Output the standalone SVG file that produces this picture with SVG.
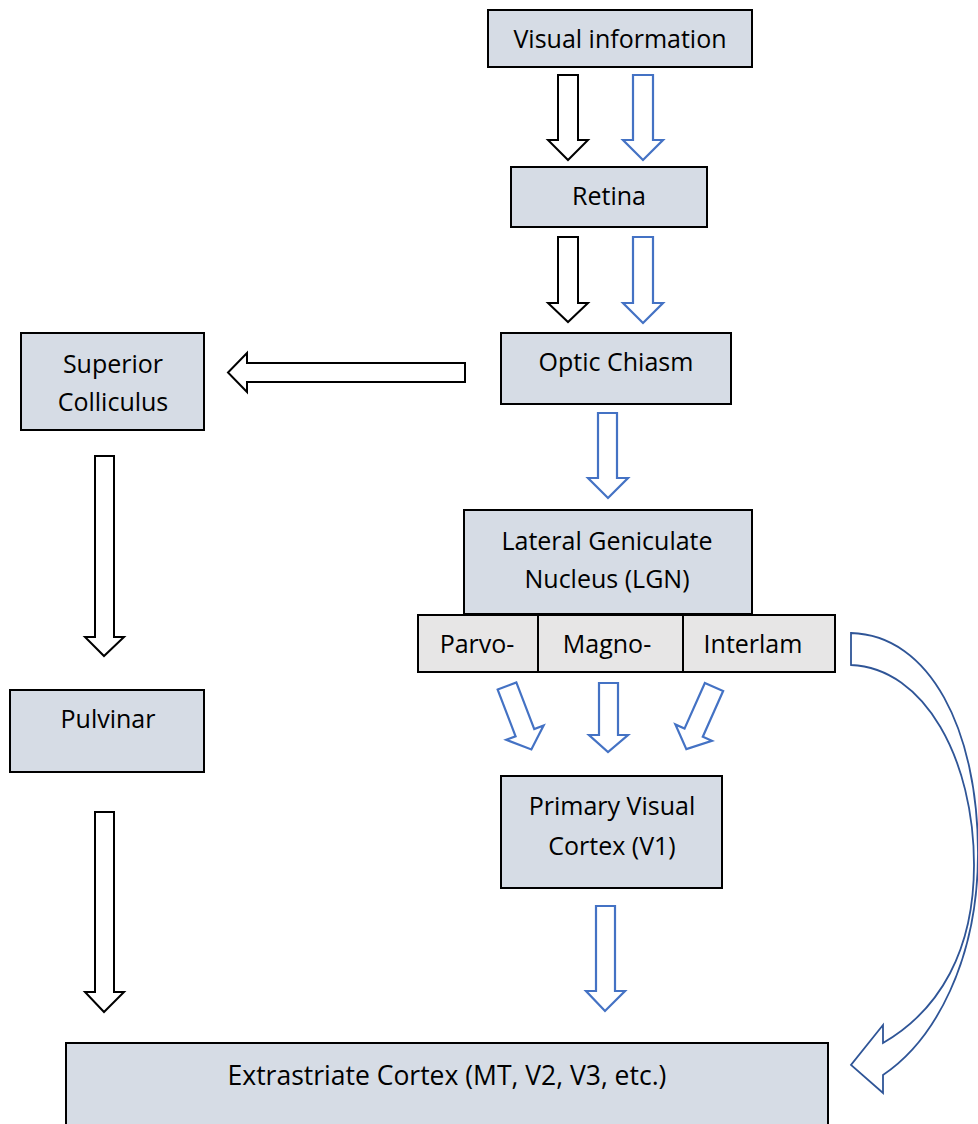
<svg xmlns="http://www.w3.org/2000/svg" width="978" height="1124" viewBox="0 0 978 1124">
<style>
.box{fill:#d6dce5;stroke:#000;stroke-width:2}
.sub{fill:#e7e6e6;stroke:#000;stroke-width:2}
.t{font-family:"Open Sans","Liberation Sans",sans-serif;font-size:25px;fill:#000;text-anchor:middle}
.ab{fill:#fff;stroke:#000;stroke-width:2;stroke-linejoin:miter}
.au{fill:#fff;stroke:#4472c4;stroke-width:2.2;stroke-linejoin:miter}
.ad{fill:#fff;stroke:#2f5597;stroke-width:1.8}
</style>
<defs>
<path id="dart" d="M-10,0 H10 V50 H20 L0,68 L-20,50 H-10 Z"/>
</defs>
<rect width="978" height="1124" fill="#fff"/>
<g id="connectors">
<path class="ab" d="M558,75 H578 V140 H588 L568,160 L548,140 H558 Z"/>
<path class="au" d="M633,75 H653 V140 H663 L643,160 L623,140 H633 Z"/>
<path class="ab" d="M558,237 H578 V303 H588 L568,322 L548,303 H558 Z"/>
<path class="au" d="M633,237 H653 V303 H663 L643,323 L623,303 H633 Z"/>
<path class="ab" d="M465,363 V382 H247 V392 L228,372.5 L247,353 V363 Z"/>
<path class="au" d="M598,413 H617 V478 H628 L608,498 L588,478 H598 Z"/>
<use class="au" href="#dart" transform="translate(507,686) rotate(-21)"/>
<path class="au" d="M599,683 H618 V735 H628 L608,752 L589,735 H599 Z"/>
<use class="au" href="#dart" transform="translate(714,687) rotate(24)"/>
<path class="au" d="M596,906 H615 V991 H625 L605,1011 L586,991 H596 Z"/>
<path class="ab" d="M95,456 H114 V637 H124 L104,656 L85,637 H95 Z"/>
<path class="ab" d="M95,812 H114 V992 H124 L104,1012 L85,992 H95 Z"/>
<path class="ad" d="M851,633 C930,635 978,730 978,853 C978,960 935,1040 883,1075 L883,1093 L851,1065 L883,1025 L883,1043 C940,1010 974,950 974,865 C974,760 925,668 851,665 Z"/>
</g>
<g id="visual">
<rect class="box" x="488" y="10" width="264" height="57"/>
<text class="t" x="620" y="48">Visual information</text>
</g>
<g id="retina">
<rect class="box" x="511" y="167" width="196" height="60"/>
<text class="t" x="609" y="205">Retina</text>
</g>
<g id="optic">
<rect class="box" x="501" y="333" width="230" height="71"/>
<text class="t" x="616" y="371">Optic Chiasm</text>
</g>
<g id="sc">
<rect class="box" x="21" y="333" width="183" height="97"/>
<text class="t" x="113" y="373">Superior</text>
<text class="t" x="113" y="411">Colliculus</text>
</g>
<g id="lgn">
<rect class="box" x="464" y="510" width="288" height="104"/>
<text class="t" x="607" y="550">Lateral Geniculate</text>
<text class="t" x="607" y="588">Nucleus (LGN)</text>
</g>
<g id="parvo">
<rect class="sub" x="418" y="615" width="120" height="57"/>
<text class="t" x="477" y="653">Parvo-</text>
</g>
<g id="magno">
<rect class="sub" x="538" y="615" width="145" height="57"/>
<text class="t" x="607" y="653">Magno-</text>
</g>
<g id="interlam">
<rect class="sub" x="683" y="615" width="152" height="57"/>
<text class="t" x="753" y="653">Interlam</text>
</g>
<g id="v1">
<rect class="box" x="501" y="776" width="221" height="112"/>
<text class="t" x="612" y="815">Primary Visual</text>
<text class="t" x="612" y="855">Cortex (V1)</text>
</g>
<g id="pulvinar">
<rect class="box" x="10" y="690" width="194" height="82"/>
<text class="t" x="108" y="728">Pulvinar</text>
</g>
<g id="extrastriate">
<rect class="box" x="66" y="1043" width="762" height="95"/>
<text class="t" x="447" y="1085" style="font-size:26.5px">Extrastriate Cortex (MT, V2, V3, etc.)</text>
</g>
</svg>
